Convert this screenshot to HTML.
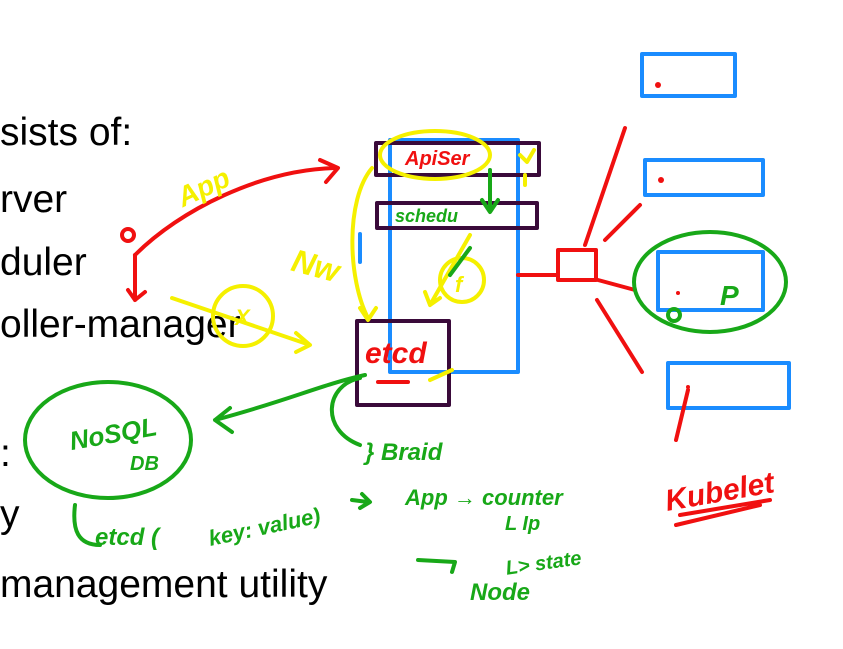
<!DOCTYPE html>
<html><head><style>
html,body{margin:0;padding:0;background:#fff;width:843px;height:649px;overflow:hidden}
svg{display:block}
.t{font-family:"Liberation Sans",sans-serif;font-size:39px;fill:#000}
.h{font-family:"Liberation Sans",sans-serif;font-style:italic;font-weight:bold}
</style></head><body>
<svg width="843" height="649" viewBox="0 0 843 649" fill="none" stroke-linecap="round" stroke-linejoin="round">
<text class="t" x="0" y="145">sists of:</text>
<text class="t" x="0" y="212">rver</text>
<text class="t" x="0" y="275">duler</text>
<text class="t" x="0" y="337">oller-manager</text>
<text class="t" x="0" y="466">:</text>
<text class="t" x="0" y="527">y</text>
<text class="t" x="0" y="597">management utility</text>

<rect x="390" y="140" width="128" height="232" stroke="#1a8cff" stroke-width="4"/>
<line x1="360" y1="234" x2="360" y2="262" stroke="#1a8cff" stroke-width="4"/>
<rect x="376" y="143" width="163" height="32" stroke="#3a0a3a" stroke-width="4"/>
<rect x="377" y="203" width="160" height="25" stroke="#3a0a3a" stroke-width="4"/>
<rect x="357" y="321" width="92" height="84" stroke="#3a0a3a" stroke-width="4"/>

<rect x="642" y="54" width="93" height="42" stroke="#1a8cff" stroke-width="4"/>
<rect x="645" y="160" width="118" height="35" stroke="#1a8cff" stroke-width="4"/>
<rect x="658" y="252" width="105" height="58" stroke="#1a8cff" stroke-width="4"/>
<rect x="668" y="363" width="121" height="45" stroke="#1a8cff" stroke-width="4"/>

<g stroke="#f01010" stroke-width="4">
<path d="M135 255 C180 210 260 170 335 168"/>
<path d="M320 160 L338 168 L326 182"/>
<path d="M135 255 L135 300 M128 290 L135 300 L145 292"/>
<path d="M122 235 a6 6 0 1 0 12 0 a6 6 0 1 0 -12 0"/>
<rect x="558" y="250" width="38" height="30"/>
<path d="M518 275 L556 275"/>
<path d="M585 245 L625 128"/>
<path d="M605 240 L640 205"/>
<path d="M598 280 L635 290"/>
<path d="M597 300 L642 372"/>
<path d="M688 390 L676 440"/>
<path d="M378 382 L408 382"/>
<path d="M676 525 L760 505 M680 515 L770 500"/>
</g>
<g fill="#f01010">
<circle cx="658" cy="85" r="3"/><circle cx="661" cy="180" r="3"/><circle cx="678" cy="293" r="2"/><circle cx="688" cy="387" r="2"/>
</g>
<text class="h" x="405" y="165" font-size="20" fill="#f01010">ApiSer</text>
<text class="h" x="365" y="363" font-size="30" fill="#f01010">etcd</text>
<text class="h" x="664" y="505" font-size="30" fill="#f01010" transform="rotate(-10 700 490)">Kubelet</text>

<g stroke="#f5f000" stroke-width="4">
<ellipse cx="435" cy="155" rx="55" ry="24"/>
<path d="M520 155 L527 162 L534 150 M525 175 L525 185"/>
<path d="M372 168 C345 200 348 280 368 318 M360 308 L368 320 L376 308"/>
<circle cx="243" cy="316" r="30"/>
<path d="M172 298 L310 345 M296 333 L310 345 L296 352"/>
<circle cx="462" cy="280" r="22"/>
<path d="M470 235 L430 305 M425 292 L430 305 L440 298"/>
<path d="M430 380 L452 370"/>
</g>
<text class="h" x="175" y="198" font-size="28" fill="#f5f000" transform="rotate(-25 200 185)">App</text>
<text class="h" x="293" y="275" font-size="32" fill="#f5f000" transform="rotate(15 310 260)">Nw</text>
<text class="h" x="235" y="325" font-size="22" fill="#f5f000">X</text>
<text class="h" x="455" y="292" font-size="22" fill="#f5f000">f</text>

<g stroke="#18a818" stroke-width="4">
<ellipse cx="108" cy="440" rx="83" ry="58"/>
<ellipse cx="710" cy="282" rx="76" ry="50"/>
<path d="M365 375 C320 385 290 400 215 420 M230 408 L215 420 L232 432"/>
<path d="M360 378 C325 385 320 430 360 445"/>
<path d="M75 505 C72 530 78 545 100 545"/>
<path d="M490 170 L490 210 M482 200 L490 212 L498 200"/>
<path d="M418 560 L455 562 L452 572"/>
<path d="M352 500 L368 502 M362 494 L370 502 L360 508"/>
<path d="M470 248 L450 275"/>
<path d="M668 315 a6 6 0 1 0 12 0 a6 6 0 1 0 -12 0"/>
</g>
<g font-family="Liberation Sans,sans-serif" font-style="italic" font-weight="bold" fill="#18a818">
<text x="70" y="445" font-size="26" transform="rotate(-10 100 440)">NoSQL</text>
<text x="130" y="470" font-size="20">DB</text>
<text x="395" y="222" font-size="18">schedu</text>
<text x="720" y="305" font-size="28">P</text>
<text x="365" y="460" font-size="24">} Braid</text>
<text x="95" y="545" font-size="24">etcd (</text>
<text x="205" y="535" font-size="22" transform="rotate(-12 260 515)">key: value)</text>
<text x="405" y="505" font-size="22">App → counter</text>
<text x="505" y="530" font-size="20">L Ip</text>
<text x="505" y="570" font-size="20" transform="rotate(-8 540 560)">L&gt; state</text>
<text x="470" y="600" font-size="24">Node</text>
</g>
</svg>
</body></html>
